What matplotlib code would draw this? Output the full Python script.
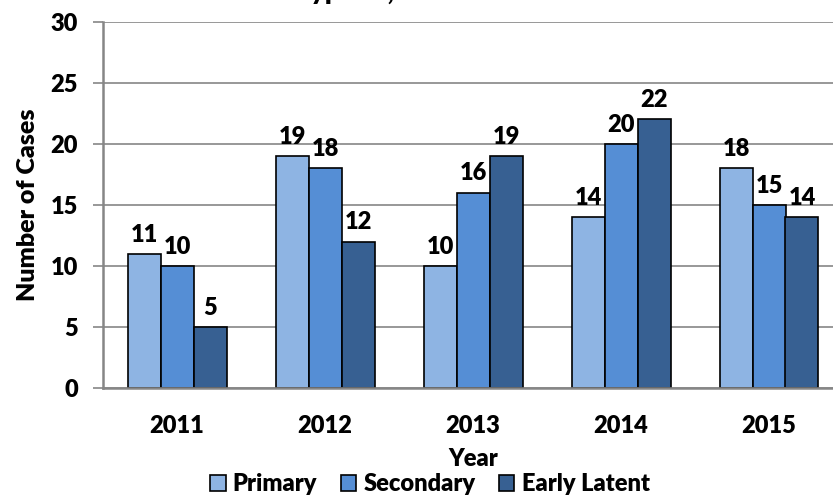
import numpy as np
import matplotlib
matplotlib.use('Agg')
import matplotlib.pyplot as plt

# Data
years = ['2011', '2012', '2013', '2014', '2015']
primary = [11, 19, 10, 14, 18]
secondary = [10, 18, 16, 20, 15]
early_latent = [5, 12, 19, 22, 14]

series_names = ['Primary', 'Secondary', 'Early Latent']
colors = ['#8EB4E3', '#558ED5', '#376092']

plt.rcParams['font.family'] = ['Lato', 'DejaVu Sans']
plt.rcParams['font.weight'] = 'heavy'

W, H = 833, 496
FS = 17
fig = plt.figure(figsize=(W / 100, H / 100), dpi=100)
ax = fig.add_axes([103 / W, 1 - 388.3 / H, 740 / W, 366.6 / H])

x = np.arange(len(years))
width = 33 / 148
grey = '#868686'

for i, (name, vals) in enumerate(zip(series_names, [primary, secondary, early_latent])):
    pos = x + (i - 1) * width
    bars = ax.bar(pos, vals, width, color=colors[i], edgecolor='black',
                  linewidth=1.2, label=name, zorder=3)
    for b, v in zip(bars, vals):
        ax.annotate(str(v), (b.get_x() + b.get_width() / 2, v),
                    xytext=(0, 6), textcoords='offset points',
                    ha='center', va='bottom', fontsize=FS, fontweight='heavy')

ax.set_xlim(-0.5, len(years) - 0.5)
ax.set_ylim(0, 30)
ax.set_yticks(range(0, 31, 5))
ax.set_xticks(x)
ax.set_xticklabels(years)
ax.tick_params(axis='x', length=0, pad=19, labelsize=FS)
ax.tick_params(axis='y', length=7, width=1.2, color=grey, pad=11, labelsize=FS)
for lbl in ax.get_xticklabels() + ax.get_yticklabels():
    lbl.set_fontweight('heavy')

ax.grid(axis='y', color=grey, linewidth=1.2, zorder=0)
ax.set_axisbelow(True)
for s in ['top', 'right']:
    ax.spines[s].set_visible(False)
for s in ['left', 'bottom']:
    ax.spines[s].set_color(grey)
    ax.spines[s].set_linewidth(1.8)
    ax.spines[s].set_zorder(4)

ax.set_xlabel('Year', fontsize=FS, fontweight='heavy', labelpad=8)
ax.set_ylabel('Number of Cases', fontsize=FS + 1, fontweight='heavy', labelpad=8)

# title sits mostly above the visible area in the original
fig.text(296 / W, 1.0, 'Syphilis, 2011-2015', fontsize=19, fontweight='heavy',
         ha='left', va='baseline')

fig.legend(loc='center', bbox_to_anchor=(430 / W, 1 - 484 / H), ncol=3, frameon=False,
           prop={'weight': 'heavy', 'size': FS},
           handlelength=0.65, handleheight=0.65, handletextpad=0.3,
           columnspacing=1.0, borderpad=0.0, borderaxespad=0.0)

fig.savefig('out.png', dpi=100)
